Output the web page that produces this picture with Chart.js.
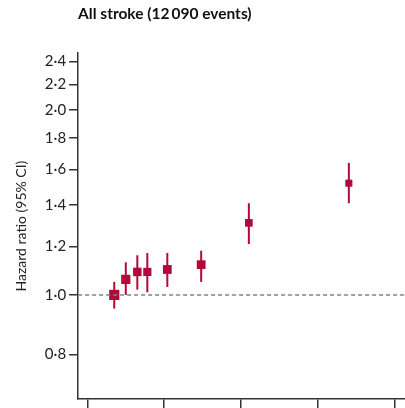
<!DOCTYPE html>
<html>
<head>
<meta charset="utf-8">
<script src="https://cdn.jsdelivr.net/npm/chart.js@4"></script>
<style>
  html, body { margin: 0; padding: 0; background: #fff; }
  #wrap { width: 405px; height: 408px; }
</style>
</head>
<body>
<div id="wrap"><canvas id="chart" width="405" height="408"></canvas></div>
<script>
// values
const xValues = [0.35, 0.50, 0.65, 0.78, 1.04, 1.48, 2.10, 3.40];
const hazardRatio = [1.00, 1.06, 1.09, 1.09, 1.10, 1.12, 1.31, 1.52];
const ciLow = [0.95, 1.00, 1.02, 1.01, 1.03, 1.05, 1.21, 1.41];
const ciHigh = [1.05, 1.13, 1.16, 1.17, 1.17, 1.18, 1.41, 1.64];
const boxSize = [7.2, 6.5, 6.0, 5.8, 6.2, 6.2, 5.4, 5.0];
const yTicks = [0.8, 1.0, 1.2, 1.4, 1.6, 1.8, 2.0, 2.2, 2.4];
const xTicks = [0, 1, 2, 3, 4];

const red = '#b5083a';
const fontFamily = 'Lato, "Open Sans", sans-serif';

const datasets = [];

// reference line at HR 1.0
datasets.push({
    type: 'line',
    data: [{x: -0.12, y: 1}, {x: 4.13, y: 1}],
    borderColor: '#6f8898',
    borderWidth: 1.5,
    borderDash: [4, 3],
    pointRadius: 0
});

// confidence intervals
xValues.forEach(function(x, i) {
    datasets.push({
        type: 'line',
        data: [{x: x, y: ciLow[i]}, {x: x, y: ciHigh[i]}],
        borderColor: red,
        borderWidth: 2,
        pointRadius: 0
    });
});

// point estimates
datasets.push({
    type: 'scatter',
    data: xValues.map(function(x, i) { return {x: x, y: hazardRatio[i]}; }),
    pointStyle: 'rect',
    pointRadius: boxSize,
    backgroundColor: red,
    borderColor: red,
    borderWidth: 0
});

// no extra label padding around the plot area
function noPadding(scale) {
    scale.paddingTop = 0;
    scale.paddingBottom = 0;
    scale.paddingLeft = 0;
    scale.paddingRight = 0;
}

const ctx = document.getElementById('chart').getContext('2d');
new Chart(ctx, {
    type: 'scatter',
    data: { datasets: datasets },
    options: {
        responsive: false,
        animation: false,
        layout: { autoPadding: false, padding: { left: 13, right: 0, top: 0, bottom: 0 } },
        plugins: {
            legend: { display: false },
            tooltip: { enabled: false },
            title: {
                display: true,
                text: 'All stroke (12\u2009090 events)',
                align: 'start',
                fullSize: false,
                color: '#111',
                font: { family: fontFamily, size: 15.5, weight: 'bold' },
                padding: { top: 5, bottom: 29.5 }
            }
        },
        scales: {
            x: {
                type: 'linear',
                min: -0.12,
                max: 4.13,
                afterBuildTicks: function(scale) {
                    scale.ticks = xTicks.map(function(v) { return {value: v}; });
                },
                afterFit: noPadding,
                ticks: { display: false },
                grid: {
                    drawOnChartArea: false,
                    drawTicks: true,
                    tickLength: 9,
                    color: '#333',
                    lineWidth: 1.5
                },
                border: { display: true, color: '#333', width: 1.5 }
            },
            y: {
                type: 'logarithmic',
                min: 0.677,
                max: 2.475,
                afterBuildTicks: function(scale) {
                    scale.ticks = yTicks.map(function(v) { return {value: v}; });
                },
                afterFit: noPadding,
                ticks: {
                    color: '#222',
                    padding: 3,
                    font: { family: fontFamily, size: 15 },
                    callback: function(v) { return Number(v).toFixed(1).replace('.', '\u00b7'); }
                },
                grid: {
                    drawOnChartArea: false,
                    drawTicks: true,
                    tickLength: 9,
                    color: '#333',
                    lineWidth: 1.5
                },
                border: { display: true, color: '#333', width: 1.5 },
                title: {
                    display: true,
                    text: 'Hazard ratio (95% CI)',
                    color: '#222',
                    font: { family: fontFamily, size: 14 },
                    padding: { top: 0, bottom: 12 }
                }
            }
        }
    }
});
</script>
</body>
</html>
